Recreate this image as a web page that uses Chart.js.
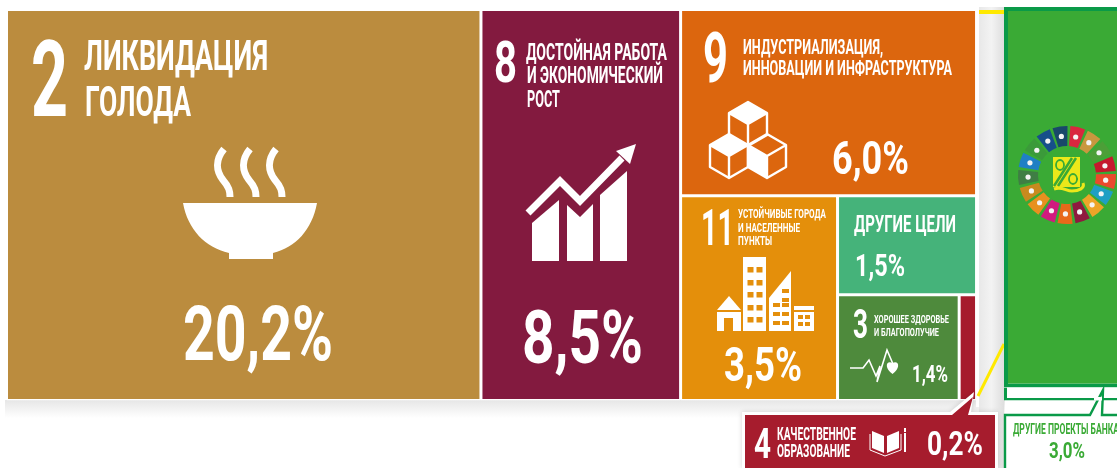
<!DOCTYPE html>
<html>
<head>
<meta charset="utf-8">
<style>
  html, body { margin: 0; padding: 0; background: #fff; overflow: hidden; }
  canvas { display: block; }
</style>
<script src="https://cdn.jsdelivr.net/npm/chart.js@4"></script>
</head>
<body>
<canvas id="tree" width="1117" height="468"></canvas>
<script>
const goalNumbers = ['2', '8', '9', '11', '', '3', '4'];
const goalNames = [
  ['ЛИКВИДАЦИЯ', 'ГОЛОДА'],
  ['ДОСТОЙНАЯ РАБОТА', 'И ЭКОНОМИЧЕСКИЙ', 'РОСТ'],
  ['ИНДУСТРИАЛИЗАЦИЯ,', 'ИННОВАЦИИ И ИНФРАСТРУКТУРА'],
  ['УСТОЙЧИВЫЕ ГОРОДА', 'И НАСЕЛЕННЫЕ', 'ПУНКТЫ'],
  ['ДРУГИЕ ЦЕЛИ'],
  ['ХОРОШЕЕ ЗДОРОВЬЕ', 'И БЛАГОПОЛУЧИЕ'],
  ['КАЧЕСТВЕННОЕ', 'ОБРАЗОВАНИЕ']
];
const goalValues = [20.2, 8.5, 6.0, 3.5, 1.5, 1.4, 0.2];
const goalColors = ['#bb8c3e', '#831a3f', '#dc660e', '#e48f0b', '#45b37a', '#4e8a3c', '#a61c2d'];

const bankName = 'ДРУГИЕ ПРОЕКТЫ БАНКА';
const bankOtherValue = 3.0;
const bankMainValue = 87; // cut off by the picture edge, estimated from the strip height

const wheelColors = ['#d9273f', '#c9973f', '#4c9f38', '#c5192d', '#ea4a2c', '#1f9fc4', '#eda428',
  '#8f1a3f', '#e8691a', '#d11a7f', '#e8901f', '#c88a1e', '#3f7e44', '#1f7fc4', '#3b9a3a', '#174f8a', '#19486a'];

const pct = v => v.toFixed(1).replace('.', ',') + '%';

// slice and dice layout, x in percent points, y as share of the block height
function layoutTiles() {
  const v = goalValues;
  const col3 = v[2] + v[3] + v[4] + v[5] + v[6];
  const x1 = v[0], x2 = x1 + v[1], x3 = x2 + col3;
  const low = v[3] + v[4] + v[5] + v[6];
  const yLow = v[2] / col3;
  const xSplit = x2 + col3 * v[3] / low;
  const rest = x3 - xSplit;
  const ySplit = yLow + (1 - yLow) * v[4] / (v[4] + v[5] + v[6]);
  const xTiny = xSplit + rest * v[5] / (v[5] + v[6]);
  return [
    [0, x1, 0, 1],
    [x1, x2, 0, 1],
    [x2, x3, 0, yLow],
    [x2, xSplit, yLow, 1],
    [xSplit, x3, yLow, ySplit],
    [xSplit, xTiny, ySplit, 1],
    [xTiny, x3, ySplit, 1]
  ];
}

const bankLeft = 42.469, bankTop = -0.0064, bankBottom = 1.0;
const bankSplit = bankTop + (bankBottom - bankTop) * bankMainValue / (bankMainValue + bankOtherValue);
const bankRight = bankLeft + bankMainValue + bankOtherValue;

const tiles = layoutTiles().map(t => ({ x0: t[0], x1: t[1], x: (t[0] + t[1]) / 2, y: [t[2], t[3]] }));
tiles.push({ x0: bankLeft, x1: bankRight, x: (bankLeft + bankRight) / 2, y: [bankTop, bankSplit] });
tiles.push({ x0: bankLeft, x1: bankRight, x: (bankLeft + bankRight) / 2, y: [bankSplit, bankBottom] });

// bar controller whose bars take their width from the x scale
class TileController extends Chart.BarController {
  _calculateBarIndexPixels(index, ruler) {
    const t = this.getDataset().data[index];
    const a = ruler.scale.getPixelForValue(t.x0);
    const b = ruler.scale.getPixelForValue(t.x1);
    return { base: a, head: b, center: (a + b) / 2, size: b - a };
  }
}
TileController.id = 'tile';
TileController.defaults = {};
Chart.register(TileController);

function txt(ctx, s, x, base, size, width, color) {
  ctx.fillStyle = color || '#fff';
  ctx.font = 'bold ' + size + 'px Roboto, "Liberation Sans", sans-serif';
  ctx.textAlign = 'left';
  ctx.textBaseline = 'alphabetic';
  ctx.fillText(s, x, base, width);
}

function poly(ctx, pts, fill) {
  ctx.beginPath();
  pts.forEach((p, i) => i ? ctx.lineTo(p[0], p[1]) : ctx.moveTo(p[0], p[1]));
  ctx.closePath();
  if (fill !== false) { ctx.fillStyle = fill || '#fff'; ctx.fill(); }
}

function rects(ctx, list, color) {
  ctx.fillStyle = color;
  list.forEach(r => ctx.fillRect(r[0], r[1], r[2], r[3]));
}

function drawBowl(ctx) {
  ctx.fillStyle = '#fff';
  ctx.beginPath();
  ctx.moveTo(183, 203);
  ctx.lineTo(317, 203);
  ctx.bezierCurveTo(312, 230, 296, 247, 273, 253);
  ctx.lineTo(273, 259);
  ctx.lineTo(229, 259);
  ctx.lineTo(229, 253);
  ctx.bezierCurveTo(205, 247, 188, 230, 183, 203);
  ctx.fill();
  ctx.strokeStyle = '#fff';
  ctx.lineWidth = 7;
  [0, 26, 52].forEach(dx => {
    ctx.beginPath();
    ctx.moveTo(224 + dx, 149);
    ctx.bezierCurveTo(215 + dx, 160, 216 + dx, 171, 223 + dx, 180);
    ctx.bezierCurveTo(229 + dx, 187, 230 + dx, 191, 230 + dx, 197);
    ctx.stroke();
  });
}

function drawGrowth(ctx) {
  ctx.strokeStyle = '#fff';
  ctx.lineWidth = 7;
  ctx.lineCap = 'butt';
  ctx.lineJoin = 'miter';
  ctx.beginPath();
  ctx.moveTo(528, 213);
  ctx.lineTo(560, 181);
  ctx.lineTo(580, 201);
  ctx.lineTo(622, 158);
  ctx.stroke();
  poly(ctx, [[636, 144], [630, 164], [616, 151]]);
  poly(ctx, [[532, 261], [532, 223], [559, 200], [559, 261]]);
  poly(ctx, [[567, 261], [567, 205], [580, 217], [593, 204], [593, 261]]);
  poly(ctx, [[600, 261], [600, 195], [627, 171], [627, 261]]);
}

function drawCube(ctx, cx, cy, filled) {
  const w = 19, h = 11;
  const top = [[cx, cy - 2 * h], [cx + w, cy - h], [cx, cy], [cx - w, cy - h]];
  const left = [[cx - w, cy - h], [cx, cy], [cx, cy + 2 * h], [cx - w, cy + h]];
  if (filled === 'top') poly(ctx, top);
  if (filled === 'left') poly(ctx, left);
  ctx.strokeStyle = '#fff';
  ctx.lineWidth = 2.4;
  ctx.lineJoin = 'round';
  ctx.beginPath();
  ctx.moveTo(cx, cy - 2 * h);
  ctx.lineTo(cx + w, cy - h);
  ctx.lineTo(cx + w, cy + h);
  ctx.lineTo(cx, cy + 2 * h);
  ctx.lineTo(cx - w, cy + h);
  ctx.lineTo(cx - w, cy - h);
  ctx.closePath();
  ctx.moveTo(cx - w, cy - h);
  ctx.lineTo(cx, cy);
  ctx.lineTo(cx + w, cy - h);
  ctx.moveTo(cx, cy);
  ctx.lineTo(cx, cy + 2 * h);
  ctx.stroke();
}

function drawCity(ctx) {
  const bg = goalColors[3];
  poly(ctx, [[717, 310], [729, 296], [741, 310]]);
  rects(ctx, [[717, 312, 24, 19], [743, 257, 23, 74]], '#fff');
  rects(ctx, [[724, 318, 9, 13]], bg);
  const win = [];
  [267, 280, 292, 305, 317].forEach(y => { win.push([747.5, y, 6, 5.5], [756.5, y, 6, 5.5]); });
  rects(ctx, win, bg);
  poly(ctx, [[769, 331], [769, 298], [791, 271], [791, 331]]);
  const slope = [[782, 289, 7, 4], [782, 298, 7, 4], [773, 303, 7, 4], [782, 303, 7, 4],
    [773, 312, 7, 4], [782, 312, 7, 4], [773, 321, 7, 4], [782, 321, 7, 4]];
  rects(ctx, slope, bg);
  rects(ctx, [[794, 306, 20, 25]], '#fff');
  rects(ctx, [[794, 310, 20, 2], [798, 315, 5, 4], [805, 315, 5, 4], [798, 322, 5, 4], [805, 322, 5, 4]], bg);
}

function drawPulse(ctx) {
  ctx.strokeStyle = '#fff';
  ctx.lineWidth = 1.6;
  ctx.lineJoin = 'miter';
  ctx.beginPath();
  ctx.moveTo(850, 368);
  ctx.lineTo(863, 368);
  ctx.lineTo(869, 360);
  ctx.lineTo(876, 376);
  ctx.lineTo(880, 366);
  ctx.lineTo(877, 382);
  ctx.moveTo(877, 382);
  ctx.lineTo(887, 350);
  ctx.lineTo(893, 364);
  ctx.stroke();
  ctx.fillStyle = '#fff';
  ctx.beginPath();
  ctx.moveTo(892.5, 374);
  ctx.bezierCurveTo(884, 368, 886, 360, 892.5, 363);
  ctx.bezierCurveTo(899, 360, 901, 368, 892.5, 374);
  ctx.fill();
}

function drawBook(ctx) {
  poly(ctx, [[872, 431], [884, 436], [884, 453], [872, 448]]);
  poly(ctx, [[887, 436], [899, 431], [899, 448], [887, 453]]);
  ctx.strokeStyle = '#fff';
  ctx.lineWidth = 1;
  ctx.beginPath();
  ctx.moveTo(870, 434);
  ctx.lineTo(870, 450);
  ctx.lineTo(885, 456);
  ctx.lineTo(901, 450);
  ctx.lineTo(901, 434);
  ctx.stroke();
  rects(ctx, [[904, 428, 2, 4], [904, 433, 2, 19]], '#fff');
}

function drawWheel(ctx) {
  const cx = 1067, cy = 175, ro = 49, ri = 29;
  const step = Math.PI * 2 / wheelColors.length;
  const gap = 0.03;
  wheelColors.forEach((c, i) => {
    const a0 = -Math.PI / 2 + step * i + gap + 0.04;
    const a1 = a0 + step - gap * 2;
    ctx.fillStyle = c;
    ctx.beginPath();
    ctx.arc(cx, cy, ro, a0, a1);
    ctx.arc(cx, cy, ri, a1, a0, true);
    ctx.closePath();
    ctx.fill();
    // the goal icons are only specks at this size
    const am = (a0 + a1) / 2, rm = (ro + ri) / 2;
    ctx.fillStyle = '#f4f4f4';
    ctx.beginPath();
    ctx.arc(cx + Math.cos(am) * rm, cy + Math.sin(am) * rm, 2.6, 0, Math.PI * 2);
    ctx.fill();
  });
  const yel = '#ece81a', grn = '#3aaa35';
  rects(ctx, [[1053, 157, 27, 30]], yel);
  ctx.strokeStyle = grn;
  ctx.lineWidth = 2.5;
  ctx.beginPath();
  ctx.moveTo(1076, 158);
  ctx.lineTo(1058, 186);
  ctx.moveTo(1072, 158);
  ctx.lineTo(1054, 186);
  ctx.stroke();
  ctx.lineWidth = 1.8;
  ctx.beginPath();
  ctx.ellipse(1060, 165, 4, 5, 0, 0, Math.PI * 2);
  ctx.moveTo(1078, 179);
  ctx.ellipse(1073, 179, 4, 5, 0, 0, Math.PI * 2);
  ctx.stroke();
  ctx.strokeStyle = yel;
  ctx.lineWidth = 3;
  ctx.beginPath();
  ctx.moveTo(1054, 189);
  ctx.bezierCurveTo(1062, 186, 1066, 191, 1072, 191);
  ctx.bezierCurveTo(1079, 191, 1085, 188, 1083, 183);
  ctx.stroke();
}

const artwork = {
  id: 'artwork',
  beforeDatasetsDraw(chart) {
    const ctx = chart.ctx;
    ctx.save();
    // soft shadow below the block
    let g = ctx.createLinearGradient(0, 400, 0, 418);
    g.addColorStop(0, '#e6e6e6');
    g.addColorStop(1, '#ffffff');
    ctx.fillStyle = g;
    ctx.fillRect(5, 400, 1000, 18);
    // gutter between the block and the bank tile
    g = ctx.createLinearGradient(979, 0, 1004, 0);
    g.addColorStop(0, '#e8e8e8');
    g.addColorStop(0.5, '#f3f3f3');
    g.addColorStop(1, '#dedede');
    ctx.fillStyle = g;
    ctx.fillRect(979, 7, 25, 461);
    rects(ctx, [[976, 7, 3, 400]], '#fff');
    rects(ctx, [[979, 10, 25, 4]], '#ffe900');
    ctx.strokeStyle = '#ffe900';
    ctx.lineWidth = 3;
    ctx.beginPath();
    ctx.moveTo(1004, 344);
    ctx.lineTo(978, 396);
    ctx.stroke();
    ctx.restore();
  },
  afterDatasetsDraw(chart) {
    const ctx = chart.ctx;
    const v = goalValues;
    ctx.save();

    txt(ctx, goalNumbers[0], 31, 116, 105, 37);
    txt(ctx, goalNames[0][0], 84, 70, 42, 184);
    txt(ctx, goalNames[0][1], 85, 116, 42, 106);
    drawBowl(ctx);
    txt(ctx, pct(v[0]), 183, 360, 76, 150);

    txt(ctx, goalNumbers[1], 494, 82, 57, 23);
    txt(ctx, goalNames[1][0], 526, 60, 23, 141);
    txt(ctx, goalNames[1][1], 527, 83, 23, 136);
    txt(ctx, goalNames[1][2], 527, 107, 23, 33);
    drawGrowth(ctx);
    txt(ctx, pct(v[1]), 522, 363, 74, 121);

    txt(ctx, goalNumbers[2], 703, 82, 71, 25);
    txt(ctx, goalNames[2][0], 743, 54, 20, 140);
    txt(ctx, goalNames[2][1], 743, 75, 20, 209);
    drawCube(ctx, 748, 124, 'top');
    drawCube(ctx, 729, 156, 'top');
    drawCube(ctx, 767, 156, 'left');
    txt(ctx, pct(v[2]), 832, 174, 47, 77);

    txt(ctx, goalNumbers[3], 701, 245, 50, 33);
    txt(ctx, goalNames[3][0], 738, 218, 13.5, 88);
    txt(ctx, goalNames[3][1], 738, 232, 13.5, 62);
    txt(ctx, goalNames[3][2], 738, 245, 13.5, 34);
    drawCity(ctx);
    txt(ctx, pct(v[3]), 724, 381, 48, 78);

    txt(ctx, goalNames[4][0], 854, 232, 23, 102);
    txt(ctx, pct(v[4]), 855, 276, 32, 50);

    txt(ctx, goalNumbers[5], 853, 338, 40, 15);
    txt(ctx, goalNames[5][0], 874, 323, 11.5, 75);
    txt(ctx, goalNames[5][1], 874, 336, 11.5, 65);
    drawPulse(ctx);
    txt(ctx, pct(v[5]), 912, 382, 23, 36);

    drawWheel(ctx);

    // callout of goal 4
    ctx.shadowColor = 'rgba(0,0,0,0.16)';
    ctx.shadowBlur = 5;
    poly(ctx, [[742, 412], [950, 412], [974, 392], [971, 412], [998, 412], [998, 468], [742, 468]], '#fff');
    ctx.shadowBlur = 0;
    poly(ctx, [[745, 415], [952, 415], [973, 397], [968, 415], [995, 415], [995, 468], [745, 468]], goalColors[6]);
    txt(ctx, goalNumbers[6], 754, 458, 43, 17);
    txt(ctx, goalNames[6][0], 777, 440, 18, 79);
    txt(ctx, goalNames[6][1], 777, 457, 18, 73);
    drawBook(ctx);
    txt(ctx, pct(v[6]), 927, 455, 34, 56);

    // callout of the other bank projects
    poly(ctx, [[1005, 415], [1090, 415], [1103, 390], [1102, 415], [1118, 415], [1118, 468], [1005, 468]], '#fff');
    ctx.beginPath();
    [[1005, 468], [1005, 415], [1090, 415], [1103, 390], [1102, 415], [1118, 415]].forEach((p, i) =>
      i ? ctx.lineTo(p[0], p[1]) : ctx.moveTo(p[0], p[1]));
    ctx.strokeStyle = '#0a9a48';
    ctx.lineWidth = 2.4;
    ctx.lineJoin = 'miter';
    ctx.stroke();
    rects(ctx, [[1094, 397, 8, 3.5]], '#fff');
    txt(ctx, bankName, 1013, 434, 14, 106, '#3aaa35');
    txt(ctx, pct(bankOtherValue), 1049, 458, 22, 36, '#3aaa35');

    ctx.restore();
  }
};

new Chart(document.getElementById('tree'), {
  type: 'tile',
  plugins: [artwork],
  data: {
    labels: tiles.map((t, i) => i),
    datasets: [{
      data: tiles,
      backgroundColor: goalColors.concat(['#3aaa35', '#ffffff']),
      borderColor: goalColors.map(() => '#ffffff').concat(['#0a9a48', '#0a9a48']),
      borderWidth: goalColors.map(() => 1.5).concat([4, { top: 0, left: 3, bottom: 2.5, right: 0 }]),
      borderSkipped: false,
      inflateAmount: 0,
      grouped: false
    }]
  },
  options: {
    responsive: false,
    animation: false,
    events: [],
    layout: { padding: 0 },
    plugins: { legend: { display: false }, tooltip: { enabled: false }, title: { display: false } },
    scales: {
      x: { type: 'linear', display: false, offset: false, min: -0.277, max: 47.28 },
      y: { type: 'linear', display: false, reverse: true, beginAtZero: false, min: -0.0243, max: 1.1726 }
    }
  }
});
</script>
</body>
</html>
